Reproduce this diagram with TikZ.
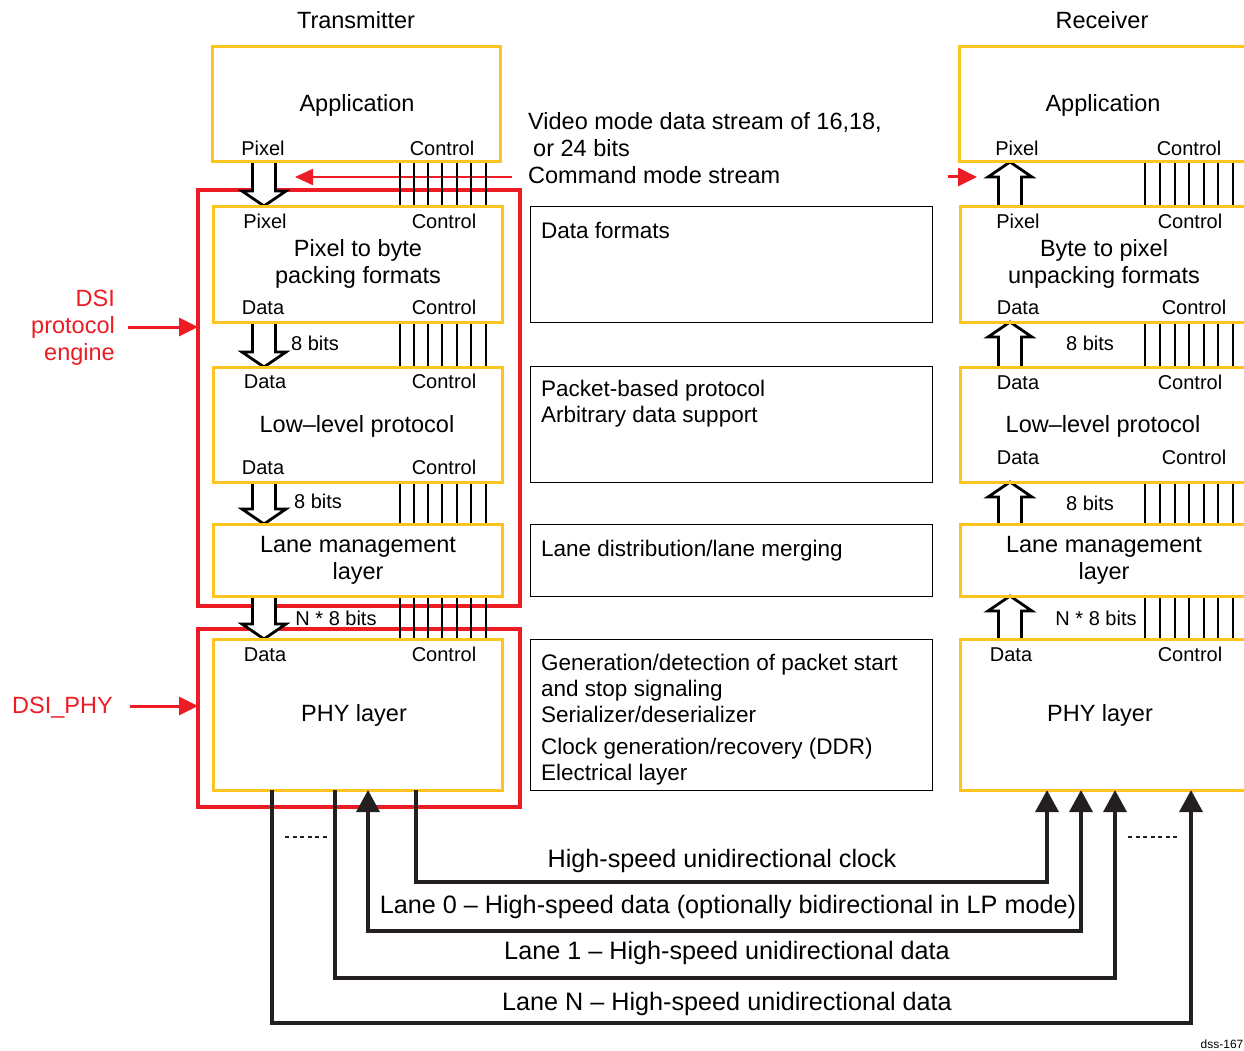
\documentclass[tikz,border=0pt]{standalone}
\usepackage{fontspec}
\setmainfont{Liberation Sans}
\usetikzlibrary{arrows.meta,calc}
\definecolor{ybox}{RGB}{253,196,32}
\definecolor{rbox}{RGB}{237,28,36}
\definecolor{lanec}{RGB}{35,31,32}
\newcommand\fmain{\fontsize{23.5}{27}\selectfont}
\newcommand\fsmall{\fontsize{20}{22}\selectfont}
\newcommand\fdesc{\fontsize{22.5}{26}\selectfont}
\newcommand\flane{\fontsize{25.2}{28}\selectfont}
\newcommand\hdown[3]{%
  \draw[hollow] ($(#2.south -| #1)+(11.5,0)$) -- ($(#3.north -| #1)+(11.5,-15)$) -- ++(10.5,0)
    -- (#3.north -| #1) -- ++(-22,-15) -- ++(10.5,0) -- ($(#2.south -| #1)+(-11.5,0)$);}
\newcommand\hup[3]{%
  \draw[hollow] ($(#3.north -| #1)+(11.5,0)$) -- ($(#2.south -| #1)+(11.5,15)$) -- ++(10.5,0)
    -- (#2.south -| #1) -- ++(-22,15) -- ++(10.5,0) -- ($(#3.north -| #1)+(-11.5,0)$);}
\pgfdeclarelayer{bg}
\pgfdeclarelayer{mid}
\pgfsetlayers{bg,mid,main}
\begin{document}
\begin{tikzpicture}[x=1pt,y=-1pt,
  layer/.style={draw=ybox,line width=3pt,inner sep=0pt,outer sep=0pt},
  desc/.style={draw=black,line width=1pt,inner sep=0pt,outer sep=0pt},
  redbox/.style={draw=rbox,line width=4pt,inner sep=0pt,outer sep=0pt},
  hollow/.style={draw=black,line width=2.8pt,fill=white,line join=miter,miter limit=10},
  bus/.style={draw=black,line width=1.6pt},
  lane/.style={draw=lanec,line width=3.4pt},
  lanetip/.style={-{Triangle[length=22pt,width=23pt]}},
  redarrow/.style={draw=rbox,line width=3pt,-{Triangle[length=19pt,width=18pt]}},
  sm/.style={font=\fsmall,inner sep=0pt,yshift=-1.5pt},
  mn/.style={font=\fmain,inner sep=0pt,align=center,yshift=-2pt},
  dt/.style={font=\fdesc,inner sep=0pt,align=left,anchor=north west},
  ln/.style={font=\flane,inner sep=0pt,yshift=-2pt},
  dots/.style={draw=lanec,line width=2pt,dash pattern=on 4pt off 3.5pt}
]
\useasboundingbox (0,0) rectangle (1244,1051);
\begin{pgfonlayer}{bg}
\fill[white] (0,0) rectangle (1244,1051);
\end{pgfonlayer}

% ---------- red groupings ----------
\begin{pgfonlayer}{bg}
\node[redbox,minimum width=322pt,minimum height=416pt] (dsiEngine) at (359,398) {};
\node[redbox,minimum width=322pt,minimum height=178pt] (dsiPhy) at (359,718) {};
\end{pgfonlayer}
\node[font=\fmain,text=rbox,align=right,inner sep=0pt,anchor=east] (lblEngine) at (115,328) {DSI\\protocol\\engine};
\node[font=\fmain,text=rbox,inner sep=0pt,anchor=east] (lblPhy) at (113,708) {DSI\_PHY};

% ---------- titles ----------
\node[font=\fmain,inner sep=0pt] (tTitle) at (356,20) {Transmitter};
\node[font=\fmain,inner sep=0pt] (rTitle) at (1102,20) {Receiver};

% ---------- transmitter layers ----------
\node[layer,minimum width=288pt,minimum height=115pt] (tApp) at (356,104.5) {};
\node[layer,minimum width=289pt,minimum height=116pt] (tPix) at (357.5,264) {};
\node[layer,minimum width=289pt,minimum height=115pt] (tLow) at (357.5,424.5) {};
\node[layer,minimum width=289pt,minimum height=72pt] (tLane) at (357.5,560) {};
\node[layer,minimum width=289pt,minimum height=151pt] (tPhy) at (357.5,714.5) {};

\node[mn] (tAppT) at (357,103) {Application};
\node[sm] (tAppP) at (263,147) {Pixel};
\node[sm] (tAppC) at (442,147) {Control};
\node[sm] (tPixP) at (265,220) {Pixel};
\node[sm] (tPixC) at (444,220) {Control};
\node[mn] (tPixT) at (358,262) {Pixel to byte\\packing formats};
\node[sm] (tPixD) at (263,306) {Data};
\node[sm] (tPixC2) at (444,306) {Control};
\node[sm] (tLowD) at (265,380) {Data};
\node[sm] (tLowC) at (444,380) {Control};
\node[mn] (tLowT) at (357,424) {Low--level protocol};
\node[sm] (tLowD2) at (263,466) {Data};
\node[sm] (tLowC2) at (444,466) {Control};
\node[mn] (tLaneT) at (358,558) {Lane management\\layer};
\node[sm] (tPhyD) at (265,653) {Data};
\node[sm] (tPhyC) at (444,653) {Control};
\node[mn] (tPhyT) at (354,713) {PHY layer};
\node[sm] (tB1) at (315,342) {8 bits};
\node[sm] (tB2) at (318,500) {8 bits};
\node[sm] (tB3) at (336,617) {N * 8 bits};

% ---------- receiver layers ----------
\node[layer,minimum width=288pt,minimum height=115pt] (rApp) at (1103,104.5) {};
\node[layer,minimum width=288pt,minimum height=116pt] (rByte) at (1104,264) {};
\node[layer,minimum width=288pt,minimum height=115pt] (rLow) at (1104,424.5) {};
\node[layer,minimum width=288pt,minimum height=72pt] (rLane) at (1104,560) {};
\node[layer,minimum width=288pt,minimum height=151pt] (rPhy) at (1104,714.5) {};

\node[mn] (rAppT) at (1103,103) {Application};
\node[sm] (rAppP) at (1017,147) {Pixel};
\node[sm] (rAppC) at (1189,147) {Control};
\node[sm] (rByteP) at (1018,220) {Pixel};
\node[sm] (rByteC) at (1190,220) {Control};
\node[mn] (rByteT) at (1104,262) {Byte to pixel\\unpacking formats};
\node[sm] (rByteD) at (1018,306) {Data};
\node[sm] (rByteC2) at (1194,306) {Control};
\node[sm] (rLowD) at (1018,381) {Data};
\node[sm] (rLowC) at (1190,381) {Control};
\node[mn] (rLowT) at (1103,424) {Low--level protocol};
\node[sm] (rLowD2) at (1018,456) {Data};
\node[sm] (rLowC2) at (1194,456) {Control};
\node[mn] (rLaneT) at (1104,558) {Lane management\\layer};
\node[sm] (rPhyD) at (1011,653) {Data};
\node[sm] (rPhyC) at (1190,653) {Control};
\node[mn] (rPhyT) at (1100,713) {PHY layer};
\node[sm] (rB1) at (1090,342) {8 bits};
\node[sm] (rB2) at (1090,502) {8 bits};
\node[sm] (rB3) at (1096,617) {N * 8 bits};

% ---------- description column ----------
\node[font=\fmain,align=left,inner sep=0pt,anchor=north west] (vidTxt) at (528,112)
  {Video mode data stream of 16,18,\\\hspace*{5pt}or 24 bits\\Command mode stream};
\node[desc,minimum width=402pt,minimum height=116pt] (dFmt) at (731,264) {};
\node[desc,minimum width=402pt,minimum height=116pt] (dPkt) at (731,424) {};
\node[desc,minimum width=402pt,minimum height=72pt] (dLane) at (731,560) {};
\node[desc,minimum width=402pt,minimum height=151pt] (dPhy) at (731,714.5) {};
\node[dt] (dFmtT) at ($(dFmt.north west)+(11,16)$) {Data formats};
\node[dt] (dPktT) at ($(dPkt.north west)+(11,14)$) {Packet-based protocol\\Arbitrary data support};
\node[dt] (dLaneT) at ($(dLane.north west)+(11,16)$) {Lane distribution/lane merging};
\node[dt] (dPhyT) at ($(dPhy.north west)+(11,15)$) {Generation/detection of packet start\\and stop signaling\\Serializer/deserializer\\[6pt]Clock generation/recovery (DDR)\\Electrical layer};

% ---------- connectors between layers ----------
\coordinate (tcol) at (264,0);
\coordinate (rcol) at (1010,0);
\coordinate (cmdS) at (512,177);
\coordinate (cmdE) at (295,177);
\coordinate (rcmdS) at (948,177);
\coordinate (rcmdE) at (977,177);
\begin{pgfonlayer}{mid}
\draw[redarrow,line width=2pt,-{Triangle[length=18pt,width=16pt]}] (cmdS) -- (cmdE);
\draw[redarrow] (rcmdS) -- (rcmdE);
\foreach \x in {400,414,428,442,457,471,486} {
  \coordinate (tb) at (\x,0);
  \draw[bus] (tApp.south -| tb) -- (tPix.north -| tb)
             (tPix.south -| tb) -- (tLow.north -| tb)
             (tLow.south -| tb) -- (tLane.north -| tb)
             (tLane.south -| tb) -- (tPhy.north -| tb);
}
\foreach \x in {1145,1160,1175,1189,1204,1218,1233} {
  \coordinate (rb) at (\x,0);
  \draw[bus] (rApp.south -| rb) -- (rByte.north -| rb)
             (rByte.south -| rb) -- (rLow.north -| rb)
             (rLow.south -| rb) -- (rLane.north -| rb)
             (rLane.south -| rb) -- (rPhy.north -| rb);
}
\hdown{tcol}{tApp}{tPix}
\hdown{tcol}{tPix}{tLow}
\hdown{tcol}{tLow}{tLane}
\hdown{tcol}{tLane}{tPhy}
\hup{rcol}{rApp}{rByte}
\hup{rcol}{rByte}{rLow}
\hup{rcol}{rLow}{rLane}
\hup{rcol}{rLane}{rPhy}
\end{pgfonlayer}

\draw[redarrow] ($(lblEngine.east)+(13,-1)$) coordinate (ea) -- (ea -| dsiEngine.west);
\draw[redarrow] ($(lblPhy.east)+(17,-2)$) coordinate (pa) -- (pa -| dsiPhy.west);

% ---------- lanes ----------
\coordinate (yClk) at (0,882);
\coordinate (yL0) at (0,931);
\coordinate (yL1) at (0,978);
\coordinate (yLN) at (0,1023);
\coordinate (xClkT) at (416,0);  \coordinate (xClkR) at (1047,0);
\coordinate (xL0T) at (368,0);   \coordinate (xL0R) at (1081,0);
\coordinate (xL1T) at (335,0);   \coordinate (xL1R) at (1115,0);
\coordinate (xLNT) at (272,0);   \coordinate (xLNR) at (1191,0);
\draw[lane,lanetip] (tPhy.south -| xClkT) |- (yClk -| xClkR) -- (rPhy.south -| xClkR);
\draw[lane,{Triangle[length=22pt,width=23pt]}-{Triangle[length=22pt,width=23pt]}]
  (tPhy.south -| xL0T) |- (yL0 -| xL0R) -- (rPhy.south -| xL0R);
\draw[lane,lanetip] (tPhy.south -| xL1T) |- (yL1 -| xL1R) -- (rPhy.south -| xL1R);
\draw[lane,lanetip] (tPhy.south -| xLNT) |- (yLN -| xLNR) -- (rPhy.south -| xLNR);
\node[ln] (lblClk) at (722,859) {High-speed unidirectional clock};
\node[ln] (lblL0) at (728,905) {Lane 0 -- High-speed data (optionally bidirectional in LP mode)};
\node[ln] (lblL1) at (727,951) {Lane 1 -- High-speed unidirectional data};
\node[ln] (lblLN) at (727,1002) {Lane N -- High-speed unidirectional data};
\draw[dots] (285,837) -- (328,837);
\draw[dots] (1128,837) -- (1180,837);

\node[font=\fontsize{12}{14}\selectfont,inner sep=0pt] (dss) at (1222,1044) {dss-167};
\end{tikzpicture}
\end{document}
